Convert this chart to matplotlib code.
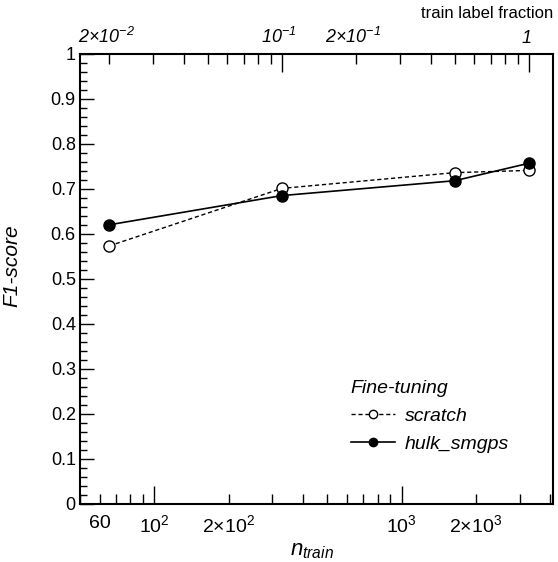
import matplotlib
matplotlib.use("Agg")
import matplotlib.pyplot as plt
from matplotlib.ticker import FixedLocator, NullFormatter, MultipleLocator

plt.rcParams["font.family"] = ["Liberation Sans", "DejaVu Sans"]
plt.rcParams["mathtext.fontset"] = "custom"
plt.rcParams["mathtext.rm"] = "Liberation Sans"
plt.rcParams["mathtext.it"] = "Liberation Sans:italic"
# sf slot used for the italic numbers on the top axis
plt.rcParams["mathtext.sf"] = "Liberation Sans:italic"

# total number of labelled training samples (fraction = 1)
N_TOTAL = 3280

fractions = [0.02, 0.1, 0.5, 1.0]
n_train = [f * N_TOTAL for f in fractions]

scratch_f1 = [0.573, 0.701, 0.736, 0.741]
scratch_err = [0.004, 0.008, 0.006, 0.004]
hulk_f1 = [0.620, 0.685, 0.718, 0.757]
hulk_err = [0.005, 0.012, 0.009, 0.005]

bottom_ticks = [60, 100, 200, 1000, 2000]
bottom_labels = ["60", r"$10^{2}$", r"$2{\times}10^{2}$", r"$10^{3}$", r"$2{\times}10^{3}$"]
top_ticks = [0.02, 0.1, 0.2, 1.0]
top_labels = [r"$\mathsf{2{\times}10^{-2}}$", r"$\mathsf{10^{-1}}$",
              r"$\mathsf{2{\times}10^{-1}}$", r"$\mathsf{1}$"]

fig = plt.figure(figsize=(5.58, 5.62), dpi=100)
ax = fig.add_axes([0.1434, 0.104, 0.8477, 0.800])

ax.errorbar(n_train, scratch_f1, yerr=scratch_err, fmt="none", ecolor="black",
            elinewidth=1.0, capsize=0, zorder=2)
ax.errorbar(n_train, hulk_f1, yerr=hulk_err, fmt="none", ecolor="black",
            elinewidth=1.0, capsize=0, zorder=2)
ax.plot(n_train, scratch_f1, color="black", ls=(0, (3, 2)), lw=1.0,
        marker="o", ms=8, mfc="white", mec="black", mew=1.0,
        label="scratch", zorder=3)
ax.plot(n_train, hulk_f1, color="black", ls="-", lw=1.2,
        marker="o", ms=8, mfc="black", mec="black",
        label="hulk_smgps", zorder=4)

ax.set_xscale("log")
ax.set_xlim(50, 4100)
ax.set_ylim(0, 1)

# bottom axis
minor = [m * 10 ** e for e in (1, 2, 3) for m in range(2, 10)]
minor = [v for v in minor if 50 <= v <= 4100 and v not in (100, 1000)]
ax.xaxis.set_major_locator(FixedLocator([100, 1000]))
ax.xaxis.set_minor_locator(FixedLocator(minor))
ax.xaxis.set_major_formatter(NullFormatter())
ax.xaxis.set_minor_formatter(NullFormatter())
ax.tick_params(axis="x", which="major", direction="in", length=13, width=1.0, top=False)
ax.tick_params(axis="x", which="minor", direction="in", length=7, width=1.0, top=False)
for t, lab in zip(bottom_ticks, bottom_labels):
    ax.annotate(lab, xy=(t, 0), xycoords=("data", "axes fraction"),
                xytext=(0, -8), textcoords="offset points",
                ha="center", va="top", fontsize=14)

# left axis
ax.yaxis.set_minor_locator(MultipleLocator(0.02))
ax.set_yticks([i / 10 for i in range(11)])
ax.set_yticklabels(["0"] + [f"{i / 10:.1f}" for i in range(1, 10)] + ["1"])
ax.tick_params(axis="y", which="major", direction="in", length=10, width=1.0,
               right=False, labelsize=13, pad=3)
ax.tick_params(axis="y", which="minor", direction="in", length=5, width=1.0, right=False)

for sp in ax.spines.values():
    sp.set_linewidth(1.5)

# top axis: fraction of training labels
sec = ax.secondary_xaxis("top", functions=(lambda n: n / N_TOTAL, lambda f: f * N_TOTAL))
top_minor = [m * 10 ** e for e in (-2, -1, 0) for m in range(1, 10)]
top_minor = [v for v in top_minor if 50 / N_TOTAL <= v <= 4100 / N_TOTAL and v not in (0.1, 1.0)]
sec.xaxis.set_major_locator(FixedLocator([0.1, 1.0]))
sec.xaxis.set_minor_locator(FixedLocator(top_minor))
sec.xaxis.set_major_formatter(NullFormatter())
sec.xaxis.set_minor_formatter(NullFormatter())
sec.tick_params(which="major", direction="in", length=13, width=1.0)
sec.tick_params(which="minor", direction="in", length=7, width=1.0)
sec.spines["top"].set_visible(False)
for t, lab in zip(top_ticks, top_labels):
    ax.annotate(lab, xy=(t * N_TOTAL, 1), xycoords=("data", "axes fraction"),
                xytext=(-2, 5), textcoords="offset points",
                ha="center", va="bottom", fontsize=13)

fig.text(553 / 558, 1 - 13 / 562, "train label fraction", ha="right", va="center",
         fontsize=12)

ax.set_xlabel(r"$n_{train}$", fontsize=16)
ax.xaxis.set_label_coords(0.49, -0.08)
ax.set_ylabel("F1-score", fontsize=15, style="italic")
ax.yaxis.set_label_coords(-0.125, 0.53)

leg = ax.legend(loc="lower left", bbox_to_anchor=(0.535, 0.073), frameon=False,
                title="Fine-tuning", fontsize=14, title_fontsize=14, markerscale=0.75,
                handlelength=2.3, handletextpad=0.5, labelspacing=0.55)
leg._legend_box.align = "left"
leg.get_title().set_style("italic")
for txt in leg.get_texts():
    txt.set_style("italic")

fig.savefig("out.png", dpi=100)
